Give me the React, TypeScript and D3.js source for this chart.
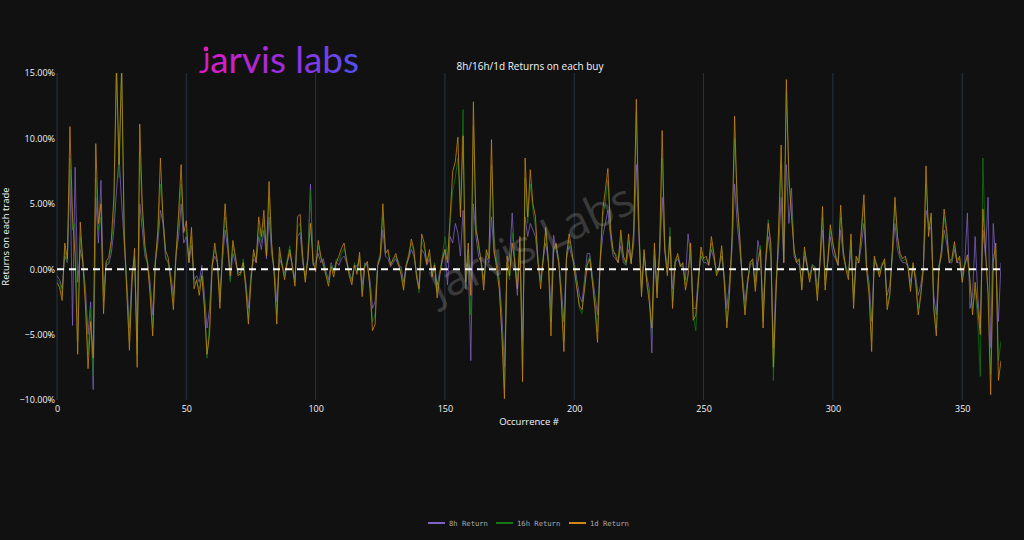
import React, { useEffect, useRef } from 'react';
import * as d3 from 'd3';

// values in %, one per buy (occurrence 0..365)
const ret1d = [
  -1.0, -1.4, -2.4, 2.0, 0.8, 10.9, 4.0, 1.0, -6.5, 3.6,
  0.4, -2.8, -7.6, -4.0, -6.8, 9.6, 3.5, 5.0, -3.4, 0.6,
  0.9, 2.2, 5.5, 15.6, 8.0, 15.6, 2.5, -1.8, -6.2, -1.0,
  1.6, -7.5, 11.1, 4.8, 1.8, 0.5, -2.0, -5.1, 0.4, 3.0,
  8.5, 3.8, 1.4, 0.9, -1.0, -3.1, 1.0, 4.2, 8.0, 2.8,
  3.7, 0.5, 3.2, -1.5, -0.8, -2.0, -0.5, -3.0, -6.5, -5.0,
  0.2, 2.0, 0.5, -3.0, 1.5, 5.0, 2.0, -0.5, 2.2, 1.0,
  -0.5, -0.3, 0.5, -1.5, -4.2, -1.0, 1.5, 0.5, 4.0, 2.5,
  4.5, 1.0, 6.7, 2.0, -0.5, -4.2, 1.7, 0.3, -0.8, 0.5,
  1.5, 0.2, -1.3, 4.0, 4.2, 1.0, -1.0, 0.8, 3.5, 0.6,
  -0.2, 2.2, 1.0, 0.3, -0.5, -1.3, 0.2, -0.6, 0.5, 1.0,
  1.6, 2.0, 0.6, -0.5, -1.2, 0.3, -0.4, 1.3, -2.1, 0.2,
  0.6, -1.5, -4.7, -4.2, 0.3, 1.0, 5.0, 1.2, 1.5, 0.3,
  0.8, 1.2, 0.4, -0.4, -1.6, 0.2, 1.0, 2.3, 1.5, -0.6,
  -1.5, 2.7, 2.0, 0.4, 1.5, -0.6, 0.3, -2.2, -0.5, 0.8,
  1.5, 0.5, 4.0, 7.5, 8.2, 10.1, 4.0, 10.2, -1.0, 2.0,
  -2.0, 12.8, 3.0, 2.0, 0.5, -1.6, 1.5, 0.8, 9.9, 1.5,
  0.0, -1.5, -5.0, -9.9, 1.0, -0.5, 2.0, 0.5, -1.5, 2.5,
  -8.6, 8.5, 4.0, 7.6, 5.0, 4.0, 0.5, -1.5, 0.8, 3.2,
  0.5, -5.1, 1.5, 2.0, 0.5, -2.5, -6.3, 1.0, 2.7, 1.5,
  0.0, -1.5, -2.8, -3.1, -1.5, 0.3, 0.8, -1.0, -3.0, -5.6,
  0.5, 4.5, 6.0, 7.7, 3.0, 1.5, 1.0, 0.5, 3.0, 1.0,
  0.5, 2.7, 0.4, 3.0, 13.0, 3.0, -2.1, 1.5, -1.0, -2.5,
  -4.5, 2.0, -2.2, 1.5, 10.6, 1.5, -0.5, 2.5, -3.0, 0.5,
  1.2, 0.2, 0.5, -1.6, -0.5, 2.0, -3.9, -3.5, -1.0, 1.7,
  0.8, 1.0, 0.3, 2.5, 1.2, -0.5, 0.0, 1.8, -1.0, -4.5,
  -2.0, 2.5, 11.7, 5.0, 2.5, -1.0, -3.5, -1.2, 0.5, 0.8,
  -1.7, 0.5, 1.5, -4.5, 0.5, 3.5, 2.0, -7.5, -2.0, 3.0,
  9.5, 0.5, 14.5, 7.0, 4.0, 1.5, 0.5, 0.8, -1.6, 1.7,
  0.3, -1.0, 0.2, 0.0, -2.4, 0.5, 4.8, -1.6, 0.5, 3.4,
  2.0, 1.0, 0.3, 4.9, 1.5, 0.0, -0.8, 2.7, -3.0, 1.0,
  0.5, 3.0, 5.7, 0.0, -2.0, -6.3, 1.0, 0.2, -0.6, 0.3,
  0.8, -3.1, -2.0, 1.5, 5.5, 2.5, 1.2, 0.8, 1.0, 0.2,
  -1.7, 0.5, -1.0, -3.5, -2.0, 0.0, 7.9, 2.5, 4.3, -3.1,
  -5.1, 0.0, 1.5, 4.6, 3.0, 0.5, 0.8, 2.1, 0.5, 1.0,
  -1.0, 0.3, 1.1, -0.8, -3.5, -1.0, -3.0, -5.0, 4.6, 1.5,
  -2.0, -9.6, 0.5, 2.0, -8.5, -7.0,
];

const ret16h = [
  -0.8, -1.0, -2.0, 1.5, 0.5, 8.5, 3.0, 3.5, -5.5, 2.5,
  0.8, -2.0, -6.5, -3.0, -8.2, 7.0, 3.0, 4.0, -2.5, 0.5,
  0.5, 1.8, 4.0, 15.5, 7.0, 15.5, 3.0, -1.5, -5.5, -0.5,
  1.0, -6.5, 9.0, 4.0, 1.2, 0.3, -1.5, -4.5, 0.8, 2.5,
  6.5, 4.0, 1.0, 0.5, -0.8, -2.5, 1.2, 3.5, 6.5, 3.0,
  3.0, 0.8, 2.5, -1.0, -1.0, -1.5, -0.3, -2.5, -6.8, -4.0,
  0.5, 1.5, 0.8, -2.5, 1.0, 4.0, 2.5, -1.0, 1.8, 0.8,
  -0.3, -0.5, 0.8, -1.2, -3.8, -0.5, 1.2, 0.8, 3.2, 2.0,
  3.8, 1.2, 5.5, 1.5, -0.2, -3.5, 1.2, 0.5, -0.5, 0.8,
  1.8, 0.0, -1.0, 3.2, 3.5, 0.8, -0.8, 1.0, 6.0, 0.4,
  0.2, 1.8, 0.8, 0.5, -0.3, -1.0, 0.4, -0.3, 0.8, 0.6,
  1.2, 1.6, 0.8, -0.3, -1.0, 0.5, -0.2, 1.0, -1.8, 0.4,
  0.4, -1.2, -4.0, -3.5, 0.5, 1.2, 4.0, 1.5, 1.2, 0.5,
  0.6, 1.0, 0.6, -0.2, -1.4, 0.4, 1.2, 2.0, 1.2, -0.4,
  -1.8, 2.2, 1.6, 0.6, 1.2, -0.4, 0.5, -1.8, -0.3, 1.0,
  2.5, 0.8, 3.5, 6.0, 7.0, 8.5, 4.5, 12.2, -1.5, 1.5,
  -3.5, 11.0, 3.5, 1.6, 0.8, -1.2, 1.2, 1.0, 8.0, 2.5,
  0.5, -1.2, -4.5, -9.2, 0.5, -0.8, 2.8, 0.8, -1.0, 2.0,
  -7.5, 7.0, 3.5, 6.5, 4.5, 3.2, 0.8, -1.0, 1.0, 2.8,
  0.8, -4.0, 1.2, 1.8, 0.8, -2.0, -5.5, 1.2, 2.2, 1.2,
  0.3, -1.2, -3.0, -3.4, -1.0, 0.5, 1.0, -0.8, -2.5, -4.8,
  0.8, 4.0, 5.0, 6.8, 3.5, 1.2, 1.2, 0.8, 2.5, 0.8,
  0.3, 2.2, 0.6, 2.5, 12.0, 3.5, -1.8, 1.2, -0.8, -2.0,
  -5.0, 1.5, -1.8, 1.2, 8.5, 2.0, -0.3, 3.2, -2.5, 0.8,
  1.0, 0.4, 0.3, -1.2, -0.3, 1.5, -3.5, -4.7, -0.8, 1.4,
  0.6, 0.8, 0.5, 2.0, 1.0, -0.3, 0.2, 1.5, -0.8, -4.0,
  -1.5, 2.0, 10.0, 5.5, 2.0, -0.8, -3.0, -1.0, 0.6, 0.6,
  -1.4, 0.8, 1.8, -4.0, 0.8, 3.8, 1.5, -8.5, -1.5, 2.5,
  8.0, 0.8, 13.5, 6.5, 5.0, 1.2, 0.8, 0.5, -1.4, 1.4,
  0.5, -0.8, 0.4, 0.2, -2.0, 0.8, 4.0, -1.2, 0.8, 3.0,
  1.8, 1.2, 0.5, 4.0, 1.2, 0.2, -0.5, 2.2, -2.5, 0.8,
  0.8, 2.5, 5.0, 0.3, -1.5, -5.5, 0.8, 0.4, -0.4, 0.5,
  0.6, -2.8, -1.8, 1.2, 4.8, 2.2, 1.0, 0.6, 0.8, 0.3,
  -1.4, 0.3, -0.8, -3.0, -1.8, 0.3, 6.5, 3.0, 4.0, -2.8,
  -4.5, 0.3, 1.2, 4.0, 2.5, 0.8, 0.6, 1.8, 0.8, 0.8,
  -0.8, 0.5, 0.8, -1.0, -3.0, -1.5, -4.0, -8.2, 8.5, 1.2,
  -1.5, -8.0, 1.0, 1.5, -7.0, -5.5,
];

const ret8h = [
  -0.5, -0.8, -1.5, 1.0, 0.5, 7.6, -4.3, 7.8, -1.0, 1.5,
  0.5, -1.5, -5.0, -2.5, -9.2, 5.5, 2.0, 6.8, -1.8, 0.3,
  0.4, 1.2, 3.0, 6.0, 8.6, 5.0, 2.0, -1.0, -4.5, -0.3,
  0.8, -5.5, 5.0, 3.0, 1.0, 0.5, -1.0, -3.5, 0.5, 2.0,
  4.5, 3.5, 0.8, 0.5, -0.5, -2.0, 1.0, 2.5, 5.0, 2.0,
  2.5, 0.5, 1.8, -0.8, -0.5, -1.0, 0.3, -2.0, -4.5, -3.0,
  0.3, 1.0, 0.5, -2.0, 0.8, 3.0, 1.5, -0.8, 1.2, 0.5,
  -0.2, -0.3, 0.5, -1.0, -3.0, -0.5, 0.8, 0.5, 2.5, 1.5,
  3.0, 0.8, 4.0, 1.2, 0.0, -2.5, 0.8, 0.3, -0.3, 0.5,
  1.2, 0.3, -0.8, 2.5, 2.8, 0.5, -0.5, 0.8, 6.5, 0.3,
  0.5, 1.2, 0.5, 0.8, -0.2, -0.8, 0.5, -0.2, 0.6, 0.3,
  0.8, 1.0, 0.5, -0.2, -0.8, 0.3, 0.2, 0.8, -1.2, 0.5,
  0.2, -0.8, -3.0, -2.5, 0.3, 0.8, 3.0, 1.0, 0.8, 0.2,
  0.5, 0.8, 0.3, 0.2, -1.0, 0.3, 0.8, 1.5, 1.0, -0.2,
  -1.5, 1.5, 1.2, 0.3, 0.8, -0.2, 0.3, -1.2, -0.2, 0.6,
  1.5, -1.2, 2.5, 2.0, 3.5, 2.8, 1.0, 4.5, -1.5, 1.0,
  -7.0, 5.0, 2.5, 1.0, 0.5, -0.8, 1.0, 0.5, 4.0, 1.2,
  0.5, -0.8, -3.5, -7.5, 0.3, 1.0, 4.3, 0.5, -2.0, 1.5,
  -5.5, 4.0, 2.5, 3.5, 3.0, 2.5, 0.5, -0.8, 0.8, 2.0,
  0.5, -3.0, 2.6, 1.5, 0.5, -1.5, -4.0, 0.8, 1.8, 1.0,
  0.5, -0.8, -2.0, -2.5, -0.8, 1.2, 1.2, -0.5, -2.0, -3.5,
  0.5, 2.5, 3.5, 4.5, 2.5, 1.0, 0.8, 0.5, 1.8, 0.5,
  0.3, 1.5, 0.5, 2.0, 8.0, 2.5, -1.5, 1.0, -0.5, -1.5,
  -6.4, 1.0, -1.2, 1.0, 5.5, 1.5, -0.2, 2.5, -1.5, 0.5,
  0.8, 0.3, 0.2, -0.8, 2.7, 1.0, -3.0, -3.0, -0.5, 1.0,
  0.5, 0.5, 0.3, 1.5, 0.8, -0.2, 0.2, 1.0, -0.5, -3.0,
  -1.0, 1.5, 6.5, 3.5, 1.5, -0.5, -2.5, -0.8, 0.3, 0.5,
  -1.0, 2.2, 1.0, -3.0, 0.5, 2.5, 1.0, -6.0, -1.0, 1.5,
  5.5, 0.5, 8.0, 3.5, 6.2, 1.0, 0.5, 0.3, -1.0, 1.0,
  0.3, -0.5, 0.3, 0.2, -1.5, 0.5, 3.0, -0.8, 0.5, 2.5,
  1.2, 0.8, 0.3, 3.0, 1.0, 0.2, -0.3, 1.5, -2.0, 0.5,
  0.5, 1.8, 3.5, 0.2, -1.0, -4.0, 0.5, 0.3, -0.3, 0.3,
  0.5, -2.0, -1.2, 1.0, 3.5, 1.5, 0.8, 0.5, 0.5, 0.2,
  -1.0, 0.2, -0.5, -2.0, -1.2, 0.2, 4.5, 3.5, 3.0, -2.0,
  -3.5, 0.2, 1.0, 3.0, 2.0, 0.5, 0.5, 1.5, 0.5, 0.5,
  -0.5, 0.5, 4.3, -3.0, -2.0, 2.5, -2.0, -4.5, 3.0, 1.0,
  5.5, -6.0, 3.5, 0.5, -4.0, 0.5,
];

const seriesNames = ['8h Return', '16h Return', '1d Return'];
const seriesColors = ['#7f62c6', '#127812', '#cf8912'];
const xTicks = [0, 50, 100, 150, 200, 250, 300, 350];
const yTicks = [-10, -5, 0, 5, 10, 15];

export default function App() {
  const svgRef = useRef<SVGSVGElement>(null);

  useEffect(() => {
    if (!svgRef.current) return;
    drawChart();
  }, []);

  const drawChart = () => {
    const svg = d3.select(svgRef.current);
    svg.selectAll('*').remove();

    const W = 1024;
    const H = 540;
    const margin = { top: 73, right: 23, bottom: 140, left: 57 };
    const width = W - margin.left - margin.right;
    const height = H - margin.top - margin.bottom;
    const font = '"Open Sans", sans-serif';

    svg.attr('width', W).attr('height', H).style('background', '#111111');
    svg.append('rect').attr('width', W).attr('height', H).attr('fill', '#111111');

    const defs = svg.append('defs');
    defs.append('clipPath').attr('id', 'plot-clip')
      .append('rect').attr('width', width).attr('height', height);
    const grad = defs.append('linearGradient').attr('id', 'logo-grad')
      .attr('x1', '0%').attr('x2', '100%').attr('y1', '0%').attr('y2', '0%');
    grad.append('stop').attr('offset', '0%').attr('stop-color', '#e01cc4');
    grad.append('stop').attr('offset', '55%').attr('stop-color', '#9a2ee0');
    grad.append('stop').attr('offset', '100%').attr('stop-color', '#4f52f2');

    const g = svg.append('g').attr('transform', `translate(${margin.left},${margin.top})`);

    const x = d3.scaleLinear().domain([0, ret1d.length - 1]).range([0, width]);
    const y = d3.scaleLinear().domain([-10, 15]).range([height, 0]);

    // vertical grid only
    g.append('g')
      .selectAll('line')
      .data(xTicks)
      .enter()
      .append('line')
      .attr('x1', (d) => x(d))
      .attr('x2', (d) => x(d))
      .attr('y1', 0)
      .attr('y2', height)
      .attr('stroke', '#283442')
      .attr('stroke-width', 1);

    // watermark
    svg.append('text')
      .attr('transform', 'translate(533,246) rotate(-25)')
      .attr('text-anchor', 'middle')
      .attr('dominant-baseline', 'middle')
      .style('font-family', font)
      .style('font-size', '45px')
      .style('fill', 'rgba(200,200,200,0.24)')
      .text('Jarvis Labs');

    // lines
    const line = d3.line<number>()
      .x((_, i) => x(i))
      .y((d) => y(d));

    const plot = g.append('g').attr('clip-path', 'url(#plot-clip)');
    [ret8h, ret16h, ret1d].forEach((vals, i) => {
      plot.append('path')
        .datum(vals)
        .attr('d', line)
        .attr('fill', 'none')
        .attr('stroke', seriesColors[i])
        .attr('stroke-width', 0.9)
        .attr('stroke-opacity', 0.85)
        .attr('stroke-linejoin', 'round');
    });

    // zero line
    g.append('line')
      .attr('x1', 0)
      .attr('x2', width)
      .attr('y1', y(0))
      .attr('y2', y(0))
      .attr('stroke', '#ffffff')
      .attr('stroke-width', 2)
      .attr('stroke-dasharray', '7,5');

    // axes
    const xAxis = g.append('g')
      .attr('transform', `translate(0,${height})`)
      .call(d3.axisBottom(x).tickValues(xTicks).tickSize(0).tickPadding(6));
    xAxis.select('.domain').remove();
    xAxis.selectAll('text')
      .style('font-family', font)
      .style('font-size', '9px')
      .style('fill', '#f2f5fa');

    const yAxis = g.append('g')
      .call(
        d3.axisLeft(y)
          .tickValues(yTicks)
          .tickSize(0)
          .tickPadding(2)
          .tickFormat((d) => d3.format('.2f')(d as number).replace('-', '\u2212') + '%'),
      );
    yAxis.select('.domain').remove();
    yAxis.selectAll('text')
      .style('font-family', font)
      .style('font-size', '9px')
      .style('fill', '#f2f5fa');

    // titles
    svg.append('text')
      .attr('x', 530)
      .attr('y', 70)
      .attr('text-anchor', 'middle')
      .style('font-family', font)
      .style('font-size', '10px')
      .style('fill', '#f2f5fa')
      .text('8h/16h/1d Returns on each buy');

    svg.append('text')
      .attr('x', margin.left + width / 2)
      .attr('y', 425)
      .attr('text-anchor', 'middle')
      .style('font-family', font)
      .style('font-size', '9.5px')
      .style('fill', '#f2f5fa')
      .text('Occurrence #');

    svg.append('text')
      .attr('transform', `translate(9,${margin.top + height / 2}) rotate(-90)`)
      .attr('text-anchor', 'middle')
      .style('font-family', font)
      .style('font-size', '9.5px')
      .style('fill', '#f2f5fa')
      .text('Returns on each trade');

    // logo: short hooked J with a dot, then the rest of the word
    const logo = svg.append('g');
    const logoText = logo.append('text')
      .attr('x', 199)
      .attr('y', 73)
      .attr('textLength', 160)
      .attr('lengthAdjust', 'spacingAndGlyphs')
      .style('font-family', 'Lato, sans-serif')
      .style('font-weight', 400)
      .style('fill', 'url(#logo-grad)');
    logoText.append('tspan').style('font-size', '26px').text('J');
    logoText.append('tspan').style('font-size', '36px').text('arvis labs');
    logo.append('circle')
      .attr('cx', 206)
      .attr('cy', 49)
      .attr('r', 2.4)
      .attr('fill', '#e01cc4');

    // legend
    const legend = svg.append('g').attr('transform', 'translate(428,523)');
    const offsets = [0, 68, 141];
    seriesNames.forEach((name, i) => {
      const item = legend.append('g').attr('transform', `translate(${offsets[i]},0)`);
      item.append('line')
        .attr('x1', 0)
        .attr('x2', 17)
        .attr('y1', 0)
        .attr('y2', 0)
        .attr('stroke', seriesColors[i])
        .attr('stroke-width', 2);
      item.append('text')
        .attr('x', 21)
        .attr('y', 2.5)
        .style('font-family', '"DejaVu Sans Mono", monospace')
        .style('font-size', '7.2px')
        .style('fill', '#aaaaaa')
        .text(name);
    });
  };

  return (
    <div style={{ position: 'absolute', left: 0, top: 0, width: 1024, height: 540, background: '#111111' }}>
      <svg ref={svgRef}></svg>
    </div>
  );
}
